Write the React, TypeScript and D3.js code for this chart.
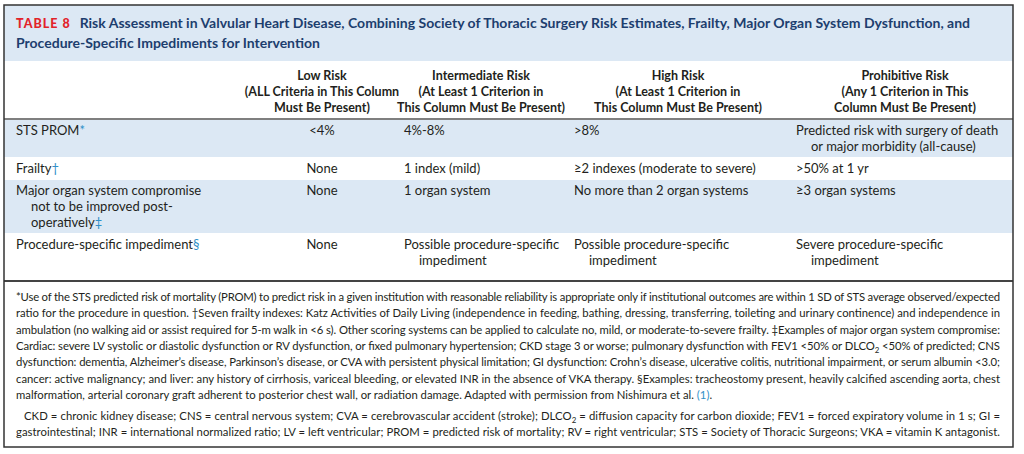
import React from "react";
import * as d3 from "d3";

const tableLabel = "TABLE 8";
const titleLines = [
  "Risk Assessment in Valvular Heart Disease, Combining Society of Thoracic Surgery Risk Estimates, Frailty, Major Organ System Dysfunction, and",
  "Procedure-Specific Impediments for Intervention",
];

const columnKeys = ["label", "low", "intermediate", "high", "prohibitive"];
const columnHeaders = [
  [],
  ["Low Risk", "(ALL Criteria in This Column", "Must Be Present)"],
  ["Intermediate Risk", "(At Least 1 Criterion in", "This Column Must Be Present)"],
  ["High Risk", "(At Least 1 Criterion in", "This Column Must Be Present)"],
  ["Prohibitive Risk", "(Any 1 Criterion in This", "Column Must Be Present)"],
];

const rowLabels = [
  ["STS PROM"],
  ["Frailty"],
  ["Major organ system compromise", "not to be improved post-", "operatively"],
  ["Procedure-specific impediment"],
];
const rowMarks = ["*", "†", "‡", "§"];
const lowRisk = [["<4%"], ["None"], ["None"], ["None"]];
const intermediateRisk = [["4%-8%"], ["1 index (mild)"], ["1 organ system"], ["Possible procedure-specific", "impediment"]];
const highRisk = [[">8%"], ["≥2 indexes (moderate to severe)"], ["No more than 2 organ systems"], ["Possible procedure-specific", "impediment"]];
const prohibitiveRisk = [
  ["Predicted risk with surgery of death", "or major morbidity (all-cause)"],
  [">50% at 1 yr"],
  ["≥3 organ systems"],
  ["Severe procedure-specific", "impediment"],
];

// footnote lines: segments [text, kind] kind: n normal, s subscript, l link
type Seg = [string, string];
const footnoteLines: Seg[][] = [
  [["*Use of the STS predicted risk of mortality (PROM) to predict risk in a given institution with reasonable reliability is appropriate only if institutional outcomes are within 1 SD of STS average observed/expected", "n"]],
  [["ratio for the procedure in question. †Seven frailty indexes: Katz Activities of Daily Living (independence in feeding, bathing, dressing, transferring, toileting and urinary continence) and independence in", "n"]],
  [["ambulation (no walking aid or assist required for 5-m walk in <6 s). Other scoring systems can be applied to calculate no, mild, or moderate-to-severe frailty. ‡Examples of major organ system compromise:", "n"]],
  [["Cardiac: severe LV systolic or diastolic dysfunction or RV dysfunction, or fixed pulmonary hypertension; CKD stage 3 or worse; pulmonary dysfunction with FEV1 <50% or DLCO", "n"], ["2", "s"], [" <50% of predicted; CNS", "n"]],
  [["dysfunction: dementia, Alzheimer’s disease, Parkinson’s disease, or CVA with persistent physical limitation; GI dysfunction: Crohn’s disease, ulcerative colitis, nutritional impairment, or serum albumin <3.0;", "n"]],
  [["cancer: active malignancy; and liver: any history of cirrhosis, variceal bleeding, or elevated INR in the absence of VKA therapy. §Examples: tracheostomy present, heavily calcified ascending aorta, chest", "n"]],
  [["malformation, arterial coronary graft adherent to posterior chest wall, or radiation damage. Adapted with permission from Nishimura et al. ", "n"], ["(1)", "l"], [".", "n"]],
];
const footnoteJustify = [true, true, true, true, true, true, false];
const abbrevLines: Seg[][] = [
  [["CKD = chronic kidney disease; CNS = central nervous system; CVA = cerebrovascular accident (stroke); DLCO", "n"], ["2", "s"], [" = diffusion capacity for carbon dioxide; FEV1 = forced expiratory volume in 1 s; GI =", "n"]],
  [["gastrointestinal; INR = international normalized ratio; LV = left ventricular; PROM = predicted risk of mortality; RV = right ventricular; STS = Society of Thoracic Surgeons; VKA = vitamin K antagonist.", "n"]],
];

const W = 1024;
const H = 454;
const FONT = "Lato, 'Liberation Sans', sans-serif";
const BAND = "#dce8f4";
const NAVY = "#1d3e6e";
const RED = "#e2232a";
const LINK = "#2f8fc8";
const TEXT = "#231f20";

const box = { x0: 4, x1: 1013, y0: 5, y1: 447 };
const textLeft = 16;
const textRight = 1000;
const lineH = 16;

// column anchors
const colX = d3.scaleOrdinal<string, number>().domain(columnKeys).range([16, 322, 404, 574, 796]);
const headCenter = d3.scaleOrdinal<string, number>().domain(columnKeys).range([16, 322, 481, 678, 905]);

const headerTop = 61;
const headerBottom = 119;
const rowPad = 6;
const rowHeights = rowLabels.map((_, i) => {
  const n = Math.max(rowLabels[i].length, intermediateRisk[i].length, highRisk[i].length, prohibitiveRisk[i].length);
  return n * lineH + rowPad;
});
const rowTops = rowHeights.reduce<number[]>((acc, h, i) => {
  acc.push(i === 0 ? headerBottom : acc[i - 1] + rowHeights[i - 1]);
  return acc;
}, []);
const bodyBottomLine = 281;

function renderSegs(segs: Seg[], size: number) {
  return segs.map(([t, k], i) => {
    if (k === "s")
      return (
        <tspan key={i} fontSize={size * 0.7} dy={3}>
          {t}
        </tspan>
      );
    if (k === "l")
      return (
        <tspan key={i} fill={LINK}>
          {t}
        </tspan>
      );
    const prevSub = i > 0 && segs[i - 1][1] === "s";
    return (
      <tspan key={i} dy={prevSub ? -3 : undefined}>
        {t}
      </tspan>
    );
  });
}

export default function App() {
  const bodySize = 13;
  const footSize = 11.3;
  const footTop = 301;
  const footLH = 16.3;
  const abbrevFirst = footTop + footnoteLines.length * footLH + 5;
  const indent = 15;

  const cellLines = (lines: string[], x: number, yTop: number, anchor: string, key: string, extra?: React.ReactNode) =>
    lines.map((t, j) => (
      <text
        key={key + j}
        x={anchor === "middle" ? x : j > 0 ? x + indent : x}
        y={yTop + 15.5 + j * lineH}
        textAnchor={anchor}
        fontSize={bodySize}
        fill={TEXT}
      >
        {t}
        {j === lines.length - 1 && extra}
      </text>
    ));

  return (
    <svg width={W} height={H} style={{ position: "absolute", left: 0, top: 0, fontFamily: FONT }}>
      <rect x={0} y={0} width={W} height={H} fill="#fff" />
      {/* title band */}
      <rect x={box.x0} y={box.y0} width={box.x1 - box.x0} height={headerTop - box.y0} fill={BAND} />
      <text x={textLeft} y={28} fontSize={14} fontWeight="bold" fill={NAVY}>
        <tspan fill={RED} fontSize={12.5} letterSpacing={1} fontWeight="900">
          {tableLabel}
        </tspan>
        <tspan dx={9}>{titleLines[0]}</tspan>
      </text>
      <text x={textLeft} y={48} fontSize={14} fontWeight="bold" fill={NAVY}>
        {titleLines[1]}
      </text>

      {/* column headers */}
      {columnHeaders.map((lines, c) =>
        lines.map((t, j) => (
          <text
            key={"h" + c + j}
            x={headCenter(columnKeys[c])}
            y={headerTop + 18.5 + j * lineH}
            textAnchor="middle"
            fontSize={12.5}
            fontWeight="bold"
            fill={TEXT}
          >
            {t}
          </text>
        ))
      )}
      <line x1={box.x0} x2={box.x1} y1={headerBottom} y2={headerBottom} stroke="#555" strokeWidth={1.6} />

      {/* row bands */}
      {rowTops.map((y, i) =>
        i % 2 === 0 ? (
          <rect key={"b" + i} x={box.x0} y={y + 1} width={box.x1 - box.x0} height={rowHeights[i] - 1} fill={BAND} />
        ) : null
      )}

      {rowTops.map((y, i) => (
        <g key={"r" + i}>
          {cellLines(rowLabels[i], colX("label"), y, "start", "l" + i, <tspan fill={LINK}>{rowMarks[i]}</tspan>)}
          {cellLines(lowRisk[i], colX("low"), y, "middle", "lo" + i)}
          {cellLines(intermediateRisk[i], colX("intermediate"), y, "start", "in" + i)}
          {cellLines(highRisk[i], colX("high"), y, "start", "hi" + i)}
          {cellLines(prohibitiveRisk[i], colX("prohibitive"), y, "start", "pr" + i)}
        </g>
      ))}

      <line x1={box.x0} x2={box.x1} y1={bodyBottomLine} y2={bodyBottomLine} stroke="#444" strokeWidth={1.8} />

      {/* footnotes */}
      {footnoteLines.map((segs, i) => (
        <text
          key={"f" + i}
          x={textLeft}
          y={footTop + i * footLH}
          fontSize={footSize}
          fill={TEXT}
          textLength={footnoteJustify[i] ? textRight - textLeft : undefined}
          lengthAdjust="spacing"
        >
          {renderSegs(segs, footSize)}
        </text>
      ))}
      {abbrevLines.map((segs, i) => (
        <text
          key={"a" + i}
          x={i === 0 ? textLeft + 8 : textLeft}
          y={abbrevFirst + i * footLH}
          fontSize={footSize}
          fill={TEXT}
          textLength={i === 0 ? textRight - textLeft - 8 : textRight - textLeft}
          lengthAdjust="spacing"
        >
          {renderSegs(segs, footSize)}
        </text>
      ))}

      {/* outer border */}
      <rect
        x={box.x0}
        y={box.y0}
        width={box.x1 - box.x0}
        height={box.y1 - box.y0}
        fill="none"
        stroke="#333"
        strokeWidth={1.5}
      />
    </svg>
  );
}
